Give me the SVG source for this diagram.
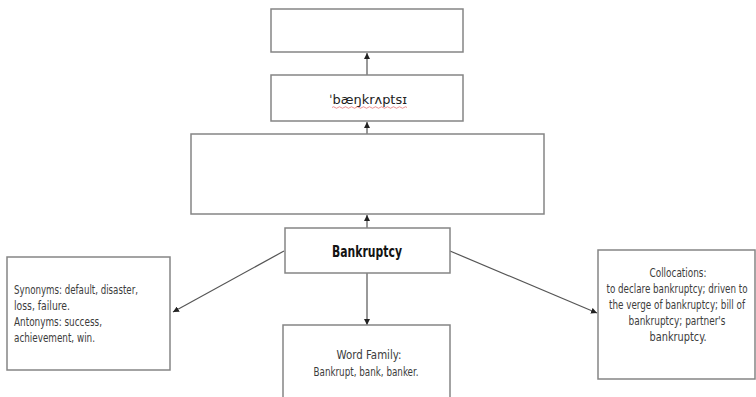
<svg xmlns="http://www.w3.org/2000/svg" width="756" height="397" viewBox="0 0 756 397">
  <style>
    .box { fill: #ffffff; stroke: #858585; stroke-width: 1.5; }
    .lbl { font-family: "DejaVu Sans Condensed", "DejaVu Sans", "Liberation Sans", sans-serif; font-stretch: condensed; font-size: 12px; fill: #3c3c3c; }
    .mid { text-anchor: middle; }
    .title { font-family: "DejaVu Sans Condensed", "DejaVu Sans", "Liberation Sans", sans-serif; font-stretch: condensed; font-size: 15px; font-weight: bold; fill: #141414; text-anchor: middle; }
    .conn { stroke: #555555; stroke-width: 1.2; fill: none; marker-end: url(#arrow); }
  </style>
  <defs>
    <marker id="arrow" viewBox="0 0 10 10" refX="10" refY="5" markerWidth="6" markerHeight="6" markerUnits="userSpaceOnUse" orient="auto">
      <path d="M0,0 L10,5 L0,10 z" fill="#222222"/>
    </marker>
  </defs>

  <rect width="756" height="397" fill="#ffffff"/>

  <g id="connectors">
    <line class="conn" x1="367" y1="75" x2="367" y2="53"/>
    <line class="conn" x1="367" y1="134" x2="367" y2="122"/>
    <line class="conn" x1="367" y1="228" x2="367" y2="215"/>
    <line class="conn" x1="284" y1="251" x2="173" y2="312"/>
    <line class="conn" x1="450" y1="251" x2="597" y2="313"/>
    <line class="conn" x1="367" y1="273" x2="367" y2="325"/>
  </g>

  <g id="node-top">
    <rect class="box" x="271" y="9" width="192" height="43"/>
  </g>

  <g id="node-phonetic">
    <rect class="box" x="271" y="75" width="192" height="46"/>
    <text class="lbl mid" x="368" y="104" textLength="78" lengthAdjust="spacingAndGlyphs" style="font-size:13px;fill:#222">ˈbæŋkrʌptsɪ</text>
    <path d="M332,107.5 q1.5,-1.5 3,0 t3,0 t3,0 t3,0 t3,0 t3,0 t3,0 t3,0 t3,0 t3,0 t3,0 t3,0 t3,0 t3,0 t3,0 t3,0 t3,0 t3,0 t3,0 t3,0 t3,0 t3,0 t3,0 t3,0 t3,0" fill="none" stroke="#e04848" stroke-width="0.6"/>
  </g>

  <g id="node-definition">
    <rect class="box" x="191" y="134" width="353" height="80"/>
  </g>

  <g id="node-bankruptcy">
    <rect class="box" x="285" y="228" width="165" height="45"/>
    <text class="title" x="367" y="257" textLength="70" lengthAdjust="spacingAndGlyphs">Bankruptcy</text>
  </g>

  <g id="node-synonyms">
    <rect class="box" x="7" y="257" width="163" height="113"/>
    <text class="lbl" x="14" y="294" textLength="124" lengthAdjust="spacingAndGlyphs">Synonyms: default, disaster,</text>
    <text class="lbl" x="14" y="310" textLength="56" lengthAdjust="spacingAndGlyphs">loss, failure.</text>
    <text class="lbl" x="14" y="326" textLength="88" lengthAdjust="spacingAndGlyphs">Antonyms: success,</text>
    <text class="lbl" x="14" y="342" textLength="81" lengthAdjust="spacingAndGlyphs">achievement, win.</text>
  </g>

  <g id="node-word-family">
    <rect class="box" x="283" y="325" width="167" height="80"/>
    <text class="lbl mid" x="369" y="359" textLength="65" lengthAdjust="spacingAndGlyphs">Word Family:</text>
    <text class="lbl mid" x="366" y="376" textLength="105" lengthAdjust="spacingAndGlyphs">Bankrupt, bank, banker.</text>
  </g>

  <g id="node-collocations">
    <rect class="box" x="598" y="250" width="157" height="129"/>
    <text class="lbl mid" x="678" y="277" textLength="57" lengthAdjust="spacingAndGlyphs">Collocations:</text>
    <text class="lbl mid" x="677" y="293" textLength="141" lengthAdjust="spacingAndGlyphs">to declare bankruptcy; driven to</text>
    <text class="lbl mid" x="677" y="309" textLength="136" lengthAdjust="spacingAndGlyphs">the verge of bankruptcy; bill of</text>
    <text class="lbl mid" x="677" y="325" textLength="97" lengthAdjust="spacingAndGlyphs">bankruptcy; partner's</text>
    <text class="lbl mid" x="678" y="341" textLength="57" lengthAdjust="spacingAndGlyphs">bankruptcy.</text>
  </g>
</svg>
